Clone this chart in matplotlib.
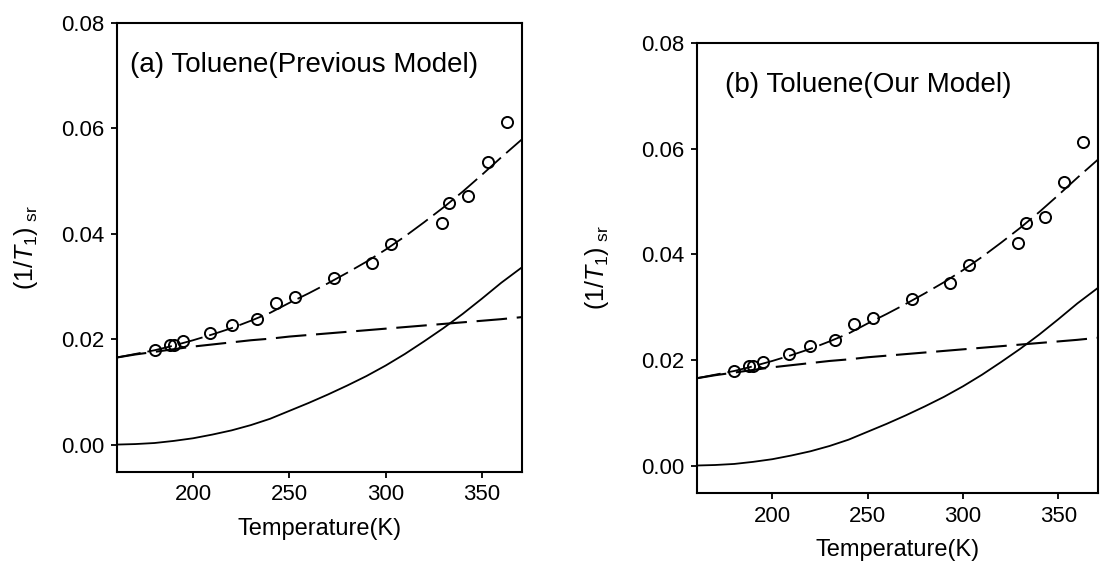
import matplotlib
matplotlib.use("Agg")
import matplotlib.pyplot as plt

plt.rcParams["font.family"] = ["Liberation Sans", "DejaVu Sans"]
plt.rcParams["mathtext.fontset"] = "custom"
plt.rcParams["mathtext.rm"] = "Liberation Sans"
plt.rcParams["mathtext.it"] = "Liberation Sans:italic"
plt.rcParams["lines.scale_dashes"] = False

# measured spin-rotation rates
temp_exp = [180, 188, 190, 195, 209, 220, 233, 243, 253, 273, 293, 303, 329, 333, 343, 353, 363]
rate_exp = [0.0179, 0.0189, 0.0189, 0.0196, 0.0211, 0.0226, 0.0238, 0.0268, 0.0280,
            0.0316, 0.0345, 0.0380, 0.0421, 0.0459, 0.0471, 0.0536, 0.0613]

# model curves sampled every 10 K
temp_model = [160, 170, 180, 190, 200, 210, 220, 230, 240, 250, 260,
              270, 280, 290, 300, 310, 320, 330, 340, 350, 360, 371]
rate_solid = [0.0000, 0.0001, 0.0003, 0.0007, 0.0012, 0.0019, 0.0027, 0.0037, 0.0049, 0.0064, 0.0079,
              0.0095, 0.0112, 0.0130, 0.0150, 0.0172, 0.0196, 0.0221, 0.0248, 0.0277, 0.0307, 0.0337]
rate_dashed = [0.0165, 0.0171, 0.0176, 0.0181, 0.0186, 0.0190, 0.0194, 0.0198, 0.0201, 0.0205, 0.0208,
               0.0211, 0.0214, 0.0217, 0.0220, 0.0223, 0.0226, 0.0229, 0.0232, 0.0235, 0.0238, 0.0242]
rate_total = [0.0165, 0.0172, 0.0179, 0.0188, 0.0198, 0.0209, 0.0221, 0.0235, 0.0250, 0.0269, 0.0287,
              0.0306, 0.0326, 0.0347, 0.0370, 0.0395, 0.0422, 0.0450, 0.0480, 0.0512, 0.0545, 0.0580]

titles = ["(a) Toluene(Previous Model)", "(b) Toluene(Our Model)"]
xticks = [200, 250, 300, 350]
yticks = [0.00, 0.02, 0.04, 0.06, 0.08]

W, H = 1101, 561
fig = plt.figure(figsize=(W / 100, H / 100), dpi=100)
boxes = [(117, 472, 405, 449), (697, 493, 401, 450)]
title_x = [0.032, 0.07]
ylab_x = [-0.19, -0.215]

for i, (l, b, w, h) in enumerate(boxes):
    ax = fig.add_axes([l / W, (H - b) / H, w / W, h / H])
    ax.plot(temp_model, rate_solid, color="black", lw=1.3)
    ax.plot(temp_model, rate_dashed, color="black", lw=1.5, dashes=(22, 7))
    ax.plot(temp_model, rate_total, color="black", lw=1.3, dashes=(18, 5))
    ax.plot(temp_exp, rate_exp, "o", ms=8, mfc="none", mec="black", mew=1.4)

    ax.set_xlim(160.5, 370.8)
    ax.set_ylim(-0.0052, 0.08)
    ax.set_xticks(xticks)
    ax.set_yticks(yticks)
    ax.set_yticklabels([f"{v:.2f}" for v in yticks])
    ax.tick_params(direction="out", length=4, width=1.3, labelsize=16, pad=5)
    for s in ax.spines.values():
        s.set_linewidth(1.5)

    ax.text(title_x[i], 0.906, titles[i], transform=ax.transAxes,
            fontsize=20, ha="left", va="center")
    ax.set_xlabel("Temperature(K)", fontsize=17, labelpad=9)
    ax.set_ylabel(r"$(1/T_1)_{\mathrm{\ sr}}$", fontsize=18)
    ax.yaxis.set_label_coords(ylab_x[i], 0.5)

fig.savefig("out.png", dpi=100)
